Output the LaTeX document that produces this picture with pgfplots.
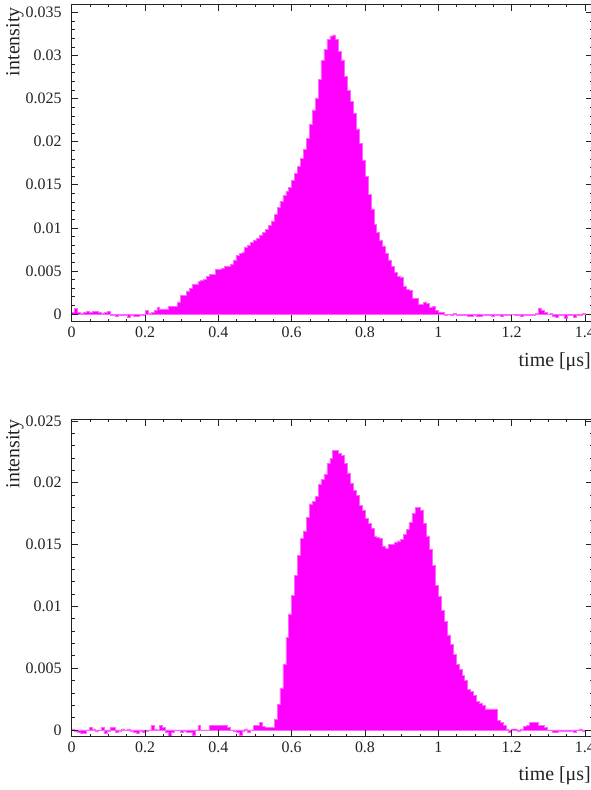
\documentclass[border=0pt]{standalone}
\usepackage{pgfplots}
\usepackage{pgfplotstable}
\pgfplotsset{compat=1.18}
\usepackage{fontspec}
\setmainfont{Liberation Serif}
\definecolor{tickgray}{RGB}{34,34,34}
\definecolor{histfill}{RGB}{255,0,255}
\definecolor{edgepink}{RGB}{255,100,255}

\pgfplotstableread{
x y
0.000 0.0002
0.008 0.0007
0.016 0.0002
0.024 0.0001
0.032 0.0002
0.040 0.0003
0.048 0.0002
0.056 0.0003
0.064 0.0003
0.072 0.0002
0.080 0.0001
0.088 0.0002
0.096 0.0003
0.104 -0.0001
0.112 -0.0002
0.120 -0.0003
0.128 -0.0002
0.136 -0.0002
0.144 -0.0001
0.152 -0.0004
0.160 -0.0002
0.168 -0.0003
0.176 -0.0003
0.184 -0.0002
0.192 -0.0002
0.200 0.0004
0.208 0.0001
0.216 0.0002
0.224 0.0004
0.232 0.0008
0.240 0.0006
0.248 0.0006
0.256 0.0006
0.264 0.0009
0.272 0.0009
0.280 0.0009
0.288 0.0014
0.296 0.0022
0.304 0.0022
0.312 0.0027
0.320 0.0030
0.328 0.0034
0.336 0.0035
0.344 0.0038
0.352 0.0039
0.360 0.0040
0.368 0.0044
0.376 0.0046
0.384 0.0046
0.392 0.0052
0.400 0.0052
0.408 0.0053
0.416 0.0055
0.424 0.0056
0.432 0.0058
0.440 0.0063
0.448 0.0068
0.456 0.0070
0.464 0.0072
0.472 0.0078
0.480 0.0080
0.488 0.0083
0.496 0.0086
0.504 0.0088
0.512 0.0092
0.520 0.0095
0.528 0.0098
0.536 0.0103
0.544 0.0108
0.552 0.0116
0.560 0.0124
0.568 0.0131
0.576 0.0138
0.584 0.0143
0.592 0.0147
0.600 0.0155
0.608 0.0163
0.616 0.0171
0.624 0.0181
0.632 0.0191
0.640 0.0204
0.648 0.0220
0.656 0.0237
0.664 0.0251
0.672 0.0272
0.680 0.0294
0.688 0.0307
0.696 0.0319
0.704 0.0323
0.712 0.0324
0.720 0.0319
0.728 0.0305
0.736 0.0295
0.744 0.0276
0.752 0.0260
0.760 0.0247
0.768 0.0233
0.776 0.0215
0.784 0.0198
0.792 0.0179
0.800 0.0160
0.808 0.0139
0.816 0.0122
0.824 0.0104
0.832 0.0095
0.840 0.0086
0.848 0.0079
0.856 0.0070
0.864 0.0063
0.872 0.0055
0.880 0.0048
0.888 0.0044
0.896 0.0043
0.904 0.0032
0.912 0.0029
0.920 0.0028
0.928 0.0018
0.936 0.0018
0.944 0.0011
0.952 0.0011
0.960 0.0014
0.968 0.0012
0.976 0.0008
0.984 0.0009
0.992 0.0004
1.000 0.0002
1.008 0.0002
1.016 -0.0001
1.024 0.0000
1.032 -0.0001
1.040 0.0001
1.048 -0.0001
1.056 -0.0002
1.064 -0.0001
1.072 -0.0002
1.080 -0.0003
1.088 -0.0003
1.096 -0.0002
1.104 -0.0003
1.112 -0.0003
1.120 -0.0002
1.128 -0.0001
1.136 -0.0002
1.144 -0.0003
1.152 -0.0001
1.160 -0.0001
1.168 -0.0003
1.176 -0.0001
1.184 -0.0002
1.192 -0.0001
1.200 0.0000
1.208 -0.0002
1.216 -0.0001
1.224 -0.0003
1.232 -0.0001
1.240 -0.0001
1.248 -0.0002
1.256 -0.0001
1.264 0.0001
1.272 0.0007
1.280 0.0004
1.288 0.0002
1.296 0.0000
1.304 0.0001
1.312 -0.0003
1.320 -0.0004
1.328 -0.0001
1.336 -0.0002
1.344 -0.0005
1.352 -0.0002
1.360 -0.0001
1.368 -0.0004
1.376 -0.0001
1.384 -0.0002
1.392 0.0001
1.400 0.0001
}\topdata

\pgfplotstableread{
x y
0.000 0.0001
0.008 -0.0001
0.016 -0.0002
0.024 -0.0003
0.032 -0.0003
0.040 0.0000
0.048 0.0002
0.056 0.0001
0.064 -0.0001
0.072 0.0000
0.080 0.0002
0.088 -0.0003
0.096 -0.0001
0.104 0.0002
0.112 0.0002
0.120 -0.0002
0.128 -0.0001
0.136 0.0001
0.144 0.0000
0.152 0.0001
0.160 -0.0001
0.168 -0.0002
0.176 -0.0003
0.184 -0.0001
0.192 -0.0002
0.200 -0.0001
0.208 0.0000
0.216 0.0004
0.224 0.0001
0.232 0.0000
0.240 0.0004
0.248 0.0002
0.256 -0.0002
0.264 -0.0005
0.272 -0.0002
0.280 0.0000
0.288 0.0000
0.296 -0.0002
0.304 -0.0001
0.312 -0.0002
0.320 -0.0002
0.328 -0.0004
0.336 0.0000
0.344 0.0004
0.352 0.0000
0.360 0.0000
0.368 0.0000
0.376 0.0004
0.384 0.0004
0.392 0.0004
0.400 0.0004
0.408 0.0004
0.416 0.0004
0.424 0.0002
0.432 0.0000
0.440 -0.0001
0.448 -0.0002
0.456 -0.0004
0.464 -0.0001
0.472 0.0001
0.480 -0.0002
0.488 0.0000
0.496 0.0004
0.504 0.0004
0.512 0.0006
0.520 0.0003
0.528 0.0002
0.536 0.0002
0.544 0.0002
0.552 0.0009
0.560 0.0021
0.568 0.0034
0.576 0.0053
0.584 0.0075
0.592 0.0094
0.600 0.0109
0.608 0.0125
0.616 0.0141
0.624 0.0155
0.632 0.0161
0.640 0.0172
0.648 0.0183
0.656 0.0185
0.664 0.0189
0.672 0.0199
0.680 0.0203
0.688 0.0207
0.696 0.0216
0.704 0.0220
0.712 0.0226
0.720 0.0226
0.728 0.0224
0.736 0.0222
0.744 0.0216
0.752 0.0208
0.760 0.0200
0.768 0.0194
0.776 0.0190
0.784 0.0182
0.792 0.0178
0.800 0.0171
0.808 0.0167
0.816 0.0163
0.824 0.0157
0.832 0.0156
0.840 0.0155
0.848 0.0149
0.856 0.0147
0.864 0.0150
0.872 0.0150
0.880 0.0152
0.888 0.0153
0.896 0.0154
0.904 0.0158
0.912 0.0162
0.920 0.0168
0.928 0.0175
0.936 0.0180
0.944 0.0180
0.952 0.0178
0.960 0.0167
0.968 0.0157
0.976 0.0146
0.984 0.0133
0.992 0.0117
1.000 0.0108
1.008 0.0097
1.016 0.0088
1.024 0.0077
1.032 0.0069
1.040 0.0061
1.048 0.0053
1.056 0.0049
1.064 0.0044
1.072 0.0040
1.080 0.0033
1.088 0.0031
1.096 0.0028
1.104 0.0023
1.112 0.0022
1.120 0.0020
1.128 0.0017
1.136 0.0017
1.144 0.0017
1.152 0.0017
1.160 0.0008
1.168 0.0006
1.176 0.0004
1.184 0.0001
1.192 -0.0002
1.200 0.0001
1.208 0.0001
1.216 -0.0001
1.224 0.0001
1.232 0.0003
1.240 0.0004
1.248 0.0006
1.256 0.0006
1.264 0.0006
1.272 0.0004
1.280 0.0004
1.288 0.0002
1.296 0.0000
1.304 0.0000
1.312 -0.0002
1.320 -0.0002
1.328 -0.0001
1.336 -0.0001
1.344 -0.0001
1.352 -0.0001
1.360 -0.0001
1.368 -0.0002
1.376 0.0000
1.384 0.0001
1.392 -0.0001
1.400 -0.0001
}\bottomdata

\pgfplotsset{
  histaxis/.style={
    scale only axis,
    width=520.8bp,
    height=317.2bp,
    xmin=0, xmax=1.4206,
    axis line style={tickgray, line width=0.8bp},
    tick style={tickgray, line width=0.7bp},
    tick align=inside,
    major tick length=6.5bp,
    minor tick length=3bp,
    xtick={0,0.2,0.4,0.6,0.8,1,1.2,1.4},
    xticklabels={0,0.2,0.4,0.6,0.8,1,1.2,1.4},
    minor x tick num=3,
    minor y tick num=4,
    scaled ticks=false,
    tick label style={font=\fontsize{16}{18}\selectfont, text=tickgray},
    xticklabel style={inner sep=0pt, yshift=-5bp},
    yticklabel style={inner sep=0pt, xshift=-10bp},
    label style={font=\fontsize{20}{22}\selectfont, text=tickgray, inner sep=0pt},
    xlabel={time [μs]},
    ylabel={intensity},
    axis on top,
  },
  histplot/.style={const plot, fill=histfill, draw=edgepink, line width=0.5bp},
}

\begin{document}
\begin{tikzpicture}
\useasboundingbox (0,0) rectangle (591bp,790bp);
\begin{axis}[histaxis,
  at={(71.7bp,468.3bp)}, anchor=south west,
  ymin=-0.00089, ymax=0.03593,
  ytick={0,0.005,0.01,0.015,0.02,0.025,0.03,0.035},
  yticklabels={0,0.005,0.01,0.015,0.02,0.025,0.03,0.035},
  xlabel style={at={(axis description cs:0.9971,-0.127)}, anchor=east},
  ylabel style={at={(axis description cs:-0.109,0.9915)}, anchor=east},
]
\addplot[histplot] table[x=x, y=y] {\topdata} \closedcycle;
\end{axis}
\begin{axis}[histaxis,
  at={(71.7bp,53.3bp)}, anchor=south west,
  ymin=-0.000543, ymax=0.02512,
  ytick={0,0.005,0.01,0.015,0.02,0.025},
  yticklabels={0,0.005,0.01,0.015,0.02,0.025},
  xlabel style={at={(axis description cs:0.9971,-0.124)}, anchor=east},
  ylabel style={at={(axis description cs:-0.109,1.0)}, anchor=east},
]
\addplot[histplot] table[x=x, y=y] {\bottomdata} \closedcycle;
\end{axis}
\end{tikzpicture}
\end{document}
